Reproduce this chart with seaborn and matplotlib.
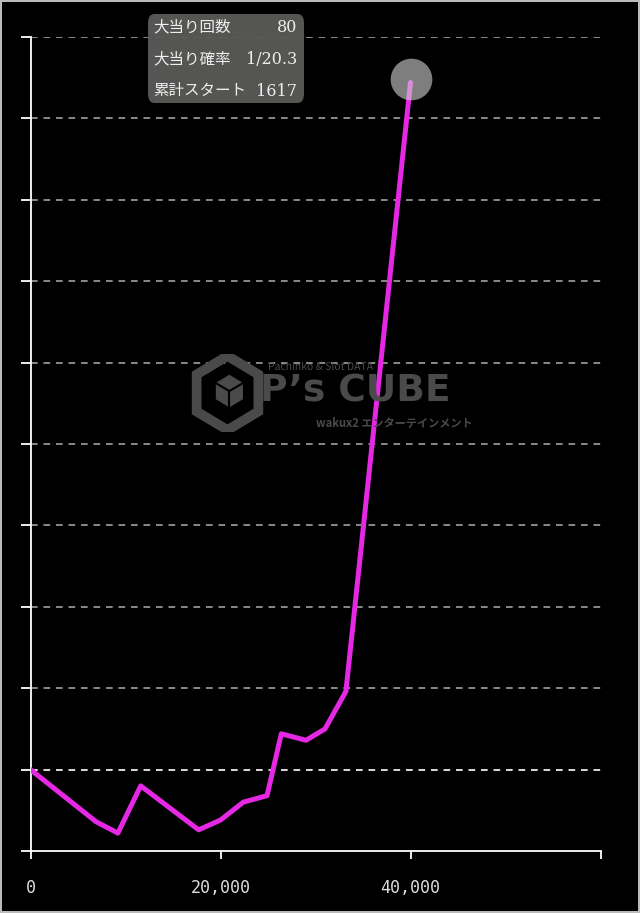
import matplotlib
matplotlib.use("Agg")
import matplotlib.pyplot as plt
import matplotlib.patches as mpatches
import seaborn as sns
import pandas as pd

# 推移データ
x_vals = [0, 6900, 9200, 11600, 17700, 20000, 22400, 24900, 26400, 29000, 31000, 33200, 40000]
y_vals = [0, -3200, -3900, -1000, -3700, -3100, -2000, -1600, 2200, 1800, 2500, 4800, 42200]
x_ticks = [0, 20000, 40000, 60000]
x_labels = ["0", "20,000", "40,000", ""]
y_grid = [-5000, 0, 5000, 10000, 15000, 20000, 25000, 30000, 35000, 40000, 45000]
info_labels = ["大当り回数", "大当り確率", "累計スタート"]
info_values = ["80", "1/20.3", "1617"]

sns.set_theme(style="dark", rc={"axes.facecolor": "black", "figure.facecolor": "black"})
plt.rcParams["font.family"] = ["Noto Sans CJK JP", "DejaVu Sans"]

df = pd.DataFrame({"x": x_vals, "y": y_vals})

fig = plt.figure(figsize=(6.4, 9.13), dpi=100)
fig.patch.set_edgecolor("#bbbbbb")
fig.patch.set_linewidth(1.5)
ax = fig.add_axes([30.5 / 640, 62 / 913, 570 / 640, 814 / 913])
ax.set_facecolor("black")

# グリッド
for g in y_grid[1:]:
    col = "white" if g == 0 else "#a0a0a0"
    ax.axhline(g, color=col, lw=1.2, ls=(0, (4, 3.5)), zorder=1)

sns.lineplot(data=df, x="x", y="y", ax=ax, color="#e428e4", lw=3.6, zorder=3)
ax.plot([x_vals[-1]], [y_vals[-1] + 250], "o", ms=30, color="#d4d4d4", alpha=0.6,
        mec="none", zorder=4)

ax.set_xlim(0, 60000)
ax.set_ylim(-5000, 45000)
ax.set_xticks(x_ticks)
ax.set_xticklabels(x_labels, family="DejaVu Sans Mono", fontsize=12, color="#dddddd")
ax.set_yticks(y_grid)
ax.set_yticklabels([])
ax.tick_params(axis="x", direction="out", length=6, width=1.3, color="white", pad=14, bottom=True)
ax.tick_params(axis="y", direction="out", length=7, width=1.3, color="white", left=True)
ax.set_xlabel("")
ax.set_ylabel("")
for s in ["top", "right"]:
    ax.spines[s].set_visible(False)
for s in ["left", "bottom"]:
    ax.spines[s].set_visible(True)
    ax.spines[s].set_color("white")
    ax.spines[s].set_linewidth(1.3)

# 透かしロゴ
wm = "#4a4a4a"
fig.text(355 / 640, 1 - 392 / 913, "P’s CUBE", color=wm, fontsize=27, fontweight="bold",
         family="DejaVu Sans", ha="center", va="center", zorder=0)
fig.text(268 / 640, 1 - 367 / 913, "Pachinko & Slot DATA", color=wm, fontsize=7.5,
         ha="left", va="center")
fig.text(316 / 640, 1 - 423 / 913, "wakux2 エンターテインメント", color=wm, fontsize=8,
         fontweight="bold", ha="left", va="center")
iax = fig.add_axes([190 / 640, 1 - 432 / 913, 75 / 640, 78 / 913])
iax.set_xlim(-1, 1)
iax.set_ylim(-1, 1)
iax.axis("off")
iax.patch.set_alpha(0)
iax.add_patch(mpatches.RegularPolygon((0, 0), 6, radius=0.95, orientation=0,
                                      fill=False, ec=wm, lw=7))
iax.add_patch(mpatches.RegularPolygon((0.05, 0.05), 6, radius=0.45, orientation=0,
                                      fc=wm, ec="black", lw=1.5))
iax.plot([0.05, 0.05], [0.05, -0.4], color="black", lw=1.5)
iax.plot([0.05, 0.44], [0.05, 0.27], color="black", lw=1.5)
iax.plot([0.05, -0.34], [0.05, 0.27], color="black", lw=1.5)

# 情報ボックス
fig.patches.append(mpatches.FancyBboxPatch((148 / 640, 1 - 103 / 913), 156 / 640, 89 / 913,
                                           boxstyle="round,pad=0,rounding_size=0.01",
                                           transform=fig.transFigure, fc="#5a5a58",
                                           ec="none", alpha=0.95, zorder=5))
for i, (lab, val) in enumerate(zip(info_labels, info_values)):
    yy = 1 - (27 + i * 32) / 913
    fig.text(153 / 640, yy, lab, color="#eeeeee", fontsize=11.2, ha="left", va="center", zorder=6)
    fig.text(297 / 640, yy, val, color="#eeeeee", fontsize=11.5, family="DejaVu Serif",
             ha="right", va="center", zorder=6)

fig.savefig("out.png", dpi=100, facecolor="black", edgecolor="#bbbbbb")
